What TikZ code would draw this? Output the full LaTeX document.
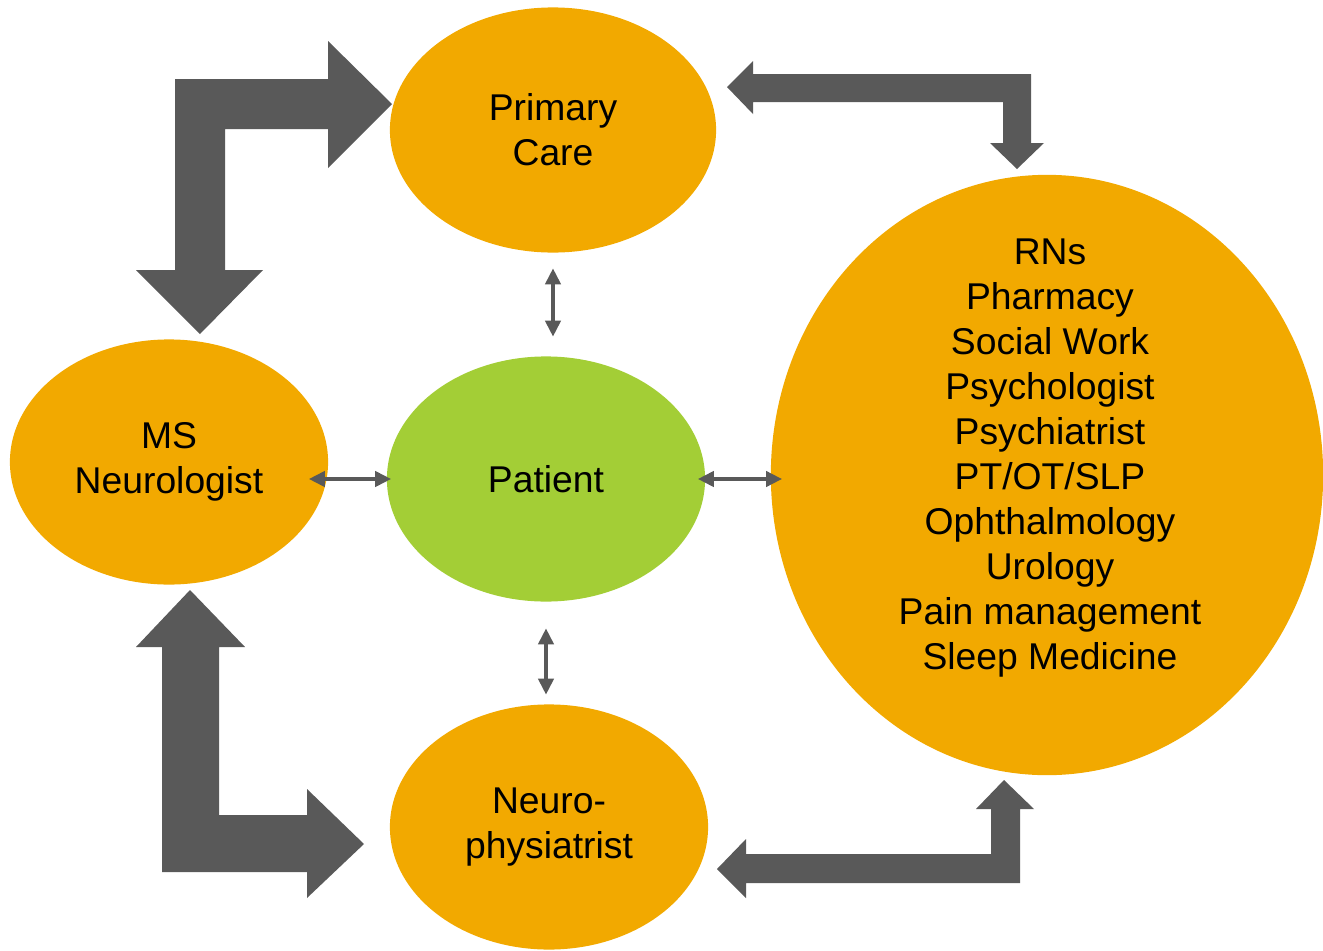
\documentclass[tikz,border=0pt]{standalone}
\usepackage{fontspec}
\setmainfont{Liberation Sans}
\usetikzlibrary{shapes.geometric,arrows.meta}

\definecolor{careorange}{HTML}{F2A900}
\definecolor{patientgreen}{HTML}{A3CE36}
\definecolor{arrowgray}{HTML}{595959}

\begin{document}
\begin{tikzpicture}[x=0.01cm,y=-0.01cm,
  team node/.style={ellipse,fill=careorange,inner sep=0pt,align=center,
    font=\fontsize{10.6}{12.8}\selectfont},
  thin arrow/.style={{Triangle[length=0.16cm,width=0.15cm]}-{Triangle[length=0.16cm,width=0.15cm]},
    draw=arrowgray,line width=1.1pt},
  bent arrow/.style={fill=arrowgray,draw=none}]

  \useasboundingbox (0,0) rectangle (1323,951);

  % the care team
  \node[team node,minimum width=3.26cm,minimum height=2.45cm] (primary) at (553,130) {Primary\\Care};
  \node[team node,minimum width=3.18cm,minimum height=2.45cm] (ms) at (169,462) {MS\\Neurologist};
  \node[team node,fill=patientgreen,minimum width=3.18cm,minimum height=2.45cm] (patient) at (546,479) {Patient};
  \node[team node,minimum width=3.18cm,minimum height=2.45cm] (neuro) at (549,827) {Neuro-\\physiatrist};
  \node[team node,minimum width=5.52cm,minimum height=6.00cm] (team) at (1047,475) {};
  \node[team node,fill=none] (teamlist) at (1050,458) {RNs\\Pharmacy\\Social Work\\Psychologist\\Psychiatrist\\PT/OT/SLP\\Ophthalmology\\Urology\\Pain management\\Sleep Medicine};

  % patient links
  \draw[thin arrow,shorten <=0.15cm,shorten >=0.19cm] (primary.south) -- (primary.south |- patient.north);
  \draw[thin arrow,shorten <=-0.2cm,shorten >=-0.05cm] (patient.west -| ms.east) -- (patient.west);
  \draw[thin arrow,shorten <=-0.08cm,shorten >=-0.12cm] (patient.east) -- (patient.east -| team.west);
  \draw[thin arrow,shorten <=0.26cm,shorten >=0.09cm] (patient.south) -- (patient.south |- neuro.north);

  % big bent arrows round the outside
  \fill[bent arrow] (175,79) -- (328,79) -- (328,41) -- (392,104) -- (328,168) -- (328,129)
    -- (225,129) -- (225,270) -- (263,270) -- (200,334) -- (136,270) -- (175,270) -- cycle;
  \fill[bent arrow] (190,590) -- (245,647) -- (219,647) -- (219,815) -- (307,815) -- (307,789)
    -- (364,844) -- (307,898) -- (307,872) -- (162,872) -- (162,647) -- (136,647) -- cycle;
  \fill[bent arrow] (727,87) -- (753,61) -- (753,74) -- (1031,74) -- (1031,143) -- (1044,143)
    -- (1017,169) -- (990,143) -- (1003,143) -- (1003,102) -- (753,102) -- (753,114) -- cycle;
  \fill[bent arrow] (1004,780) -- (1034,809) -- (1020,809) -- (1020,883) -- (746,883) -- (746,898)
    -- (717,869) -- (746,839) -- (746,854) -- (991,854) -- (991,809) -- (976,809) -- cycle;
\end{tikzpicture}
\end{document}
